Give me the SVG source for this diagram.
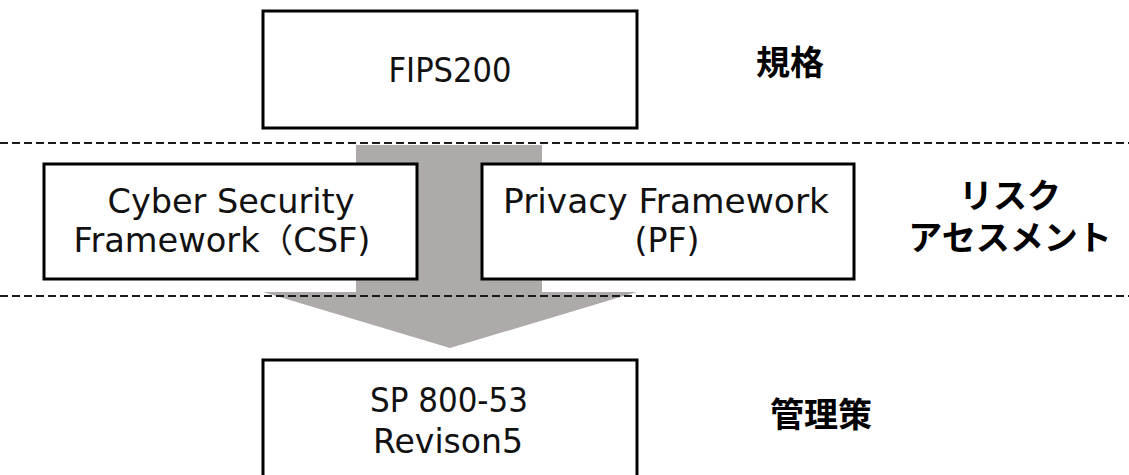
<svg xmlns="http://www.w3.org/2000/svg" width="1129" height="475" viewBox="0 0 1129 475">
  <style>
    .box { fill: #ffffff; stroke: #000000; stroke-width: 3; }
    .lbl { font-family: "DejaVu Sans", "Noto Sans CJK JP", sans-serif; font-size: 33px; fill: #111111; text-anchor: middle; }
    .tier { font-family: "Noto Sans CJK JP", sans-serif; font-size: 34px; font-weight: bold; fill: #000000; text-anchor: middle; }
    .sep { stroke: #1a1a1a; stroke-width: 2; stroke-dasharray: 8 4; fill: none; }
    .flow { fill: #aeaaa9; }
  </style>

  <!-- Big block arrow from the standard down to the controls -->
  <g id="connectors">
    <polygon class="flow" points="356,145 542,145 542,292 637,292 450,348 263,292 356,292"/>
  </g>

  <!-- Tier separators -->
  <g id="separators">
    <line class="sep" x1="0" y1="143" x2="1129" y2="143"/>
    <line class="sep" x1="0" y1="296" x2="1129" y2="296"/>
  </g>

  <g id="fips200">
    <rect class="box" x="263" y="11" width="374" height="117"/>
    <text class="lbl" x="450" y="82" textLength="123" lengthAdjust="spacingAndGlyphs">FIPS200</text>
  </g>

  <g id="csf">
    <rect class="box" x="44" y="164" width="373" height="115"/>
    <text class="lbl" x="231" y="213" textLength="247" lengthAdjust="spacingAndGlyphs">Cyber Security</text>
    <text class="lbl" x="222" y="252" textLength="297" lengthAdjust="spacingAndGlyphs">Framework（CSF)</text>
  </g>

  <g id="pf">
    <rect class="box" x="482" y="164" width="372" height="115"/>
    <text class="lbl" x="666" y="213" textLength="326" lengthAdjust="spacingAndGlyphs">Privacy Framework</text>
    <text class="lbl" x="667" y="252" textLength="65" lengthAdjust="spacingAndGlyphs">(PF)</text>
  </g>

  <g id="sp800-53">
    <rect class="box" x="263" y="360" width="374" height="130"/>
    <text class="lbl" x="449" y="412" textLength="158" lengthAdjust="spacingAndGlyphs">SP 800-53</text>
    <text class="lbl" x="448" y="453" textLength="150" lengthAdjust="spacingAndGlyphs">Revison5</text>
  </g>

  <!-- Tier captions -->
  <g id="tier-standard">
    <text class="tier" x="790" y="75">規格</text>
  </g>
  <g id="tier-risk">
    <text class="tier" x="1010" y="208">リスク</text>
    <text class="tier" x="1010" y="250">アセスメント</text>
  </g>
  <g id="tier-controls">
    <text class="tier" x="821" y="427">管理策</text>
  </g>
</svg>
